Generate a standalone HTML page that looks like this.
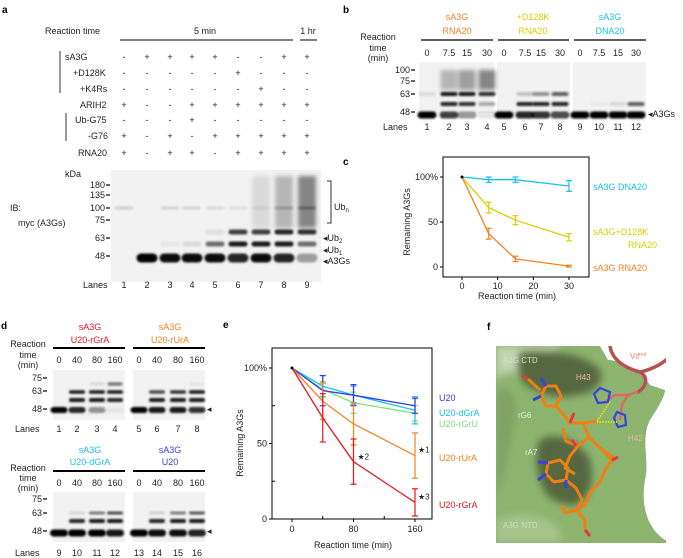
<!DOCTYPE html>
<html><head><meta charset="utf-8">
<style>
html,body{margin:0;padding:0;background:#fff;overflow:hidden;}
svg{display:block;font-family:"Liberation Sans",Arial,sans-serif;}
text{font-size:9px;fill:#222;}
.pl{font-size:10px;font-weight:bold;fill:#000;}
</style></head>
<body>
<svg id="fig" width="683" height="558" viewBox="0 0 683 558">
<defs>
<filter id="bl" x="-20%" y="-50%" width="140%" height="200%"><feGaussianBlur stdDeviation="1.1"/></filter>
<filter id="bl2" x="-20%" y="-50%" width="140%" height="200%"><feGaussianBlur stdDeviation="2.2"/></filter>
<filter id="bl3" x="-20%" y="-20%" width="140%" height="140%"><feGaussianBlur stdDeviation="4"/></filter>
</defs>

<!-- Panel a -->
<g>
<text class="pl" x="2" y="13">a</text>
<text x="45" y="34">Reaction time</text>
<text x="205" y="34" text-anchor="middle">5 min</text>
<text x="308" y="34" text-anchor="middle">1 hr</text>
<line x1="120" y1="40" x2="293" y2="40" stroke="#000" stroke-width="1"/>
<line x1="300" y1="40" x2="317" y2="40" stroke="#000" stroke-width="1"/>
<line x1="60" y1="51" x2="60" y2="93" stroke="#333" stroke-width="1"/>
<line x1="66" y1="113" x2="66" y2="141" stroke="#333" stroke-width="1"/>
<g id="a-table"></g>
<rect x="111" y="170" width="210" height="112" fill="#f2f2f2"/>
<g id="a-bands"></g>
<text x="65" y="177">kDa</text>
<g id="a-ticks"></g>
<text x="10" y="211">IB:</text>
<text x="18" y="226">myc (A3Gs)</text>
<path d="M327 181 H331 V223 H327" fill="none" stroke="#333" stroke-width="1"/>
<text x="334" y="210">Ub<tspan font-size="6" dy="2">n</tspan></text>
<text x="323" y="241">◂Ub<tspan font-size="6" dy="2">2</tspan></text>
<text x="323" y="253">◂Ub<tspan font-size="6" dy="2">1</tspan></text>
<text x="323" y="264">◂A3Gs</text>
<text x="83" y="288">Lanes</text>
</g>

<!-- Panel b -->
<g>
<text class="pl" x="343" y="13">b</text>
<text x="457" y="20" text-anchor="middle" style="fill:#f58220">sA3G</text>
<text x="457" y="34" text-anchor="middle" style="fill:#f58220">RNA20</text>
<text x="533" y="20" text-anchor="middle" style="fill:#d9d000">+D128K</text>
<text x="533" y="34" text-anchor="middle" style="fill:#d9d000">RNA20</text>
<text x="610" y="20" text-anchor="middle" style="fill:#19c2e6">sA3G</text>
<text x="610" y="34" text-anchor="middle" style="fill:#19c2e6">DNA20</text>
<line x1="421" y1="40" x2="493" y2="40" stroke="#000" stroke-width="1.2"/>
<line x1="498" y1="40" x2="569" y2="40" stroke="#000" stroke-width="1.2"/>
<line x1="574" y1="40" x2="646" y2="40" stroke="#000" stroke-width="1.2"/>
<text x="378" y="40" text-anchor="middle">Reaction</text>
<text x="378" y="51" text-anchor="middle">time</text>
<text x="378" y="61" text-anchor="middle">(min)</text>
<rect x="419" y="62" width="75" height="51" fill="#f2f2f2"/>
<rect x="497" y="62" width="73" height="51" fill="#f2f2f2"/>
<rect x="573" y="62" width="73" height="51" fill="#f2f2f2"/>
<g id="b-bands"></g>
<g id="b-ticks"></g>
<text x="648" y="117">◂A3Gs</text>
<text x="383" y="130">Lanes</text>
</g>

<!-- Panel c -->
<g>
<text class="pl" x="343" y="165">c</text>
<rect x="443" y="157" width="146" height="120" fill="none" stroke="#000" stroke-width="1"/>
<g id="c-chart"></g>
<text x="517" y="299" text-anchor="middle">Reaction time (min)</text>
<text transform="translate(410,222) rotate(-90)" text-anchor="middle">Remaining A3Gs</text>
<text x="593" y="190" style="fill:#19c2e6">sA3G DNA20</text>
<text x="593" y="235" style="fill:#d9d000">sA3G+D128K</text>
<text x="657" y="248" text-anchor="end" style="fill:#d9d000">RNA20</text>
<text x="593" y="271" style="fill:#f58220">sA3G RNA20</text>
</g>

<!-- Panel d -->
<g>
<text class="pl" x="1" y="329">d</text>
<text x="90" y="330" text-anchor="middle" style="fill:#e8141c">sA3G</text>
<text x="90" y="343" text-anchor="middle" style="fill:#e8141c">U20-rGrA</text>
<text x="170" y="330" text-anchor="middle" style="fill:#f58220">sA3G</text>
<text x="170" y="343" text-anchor="middle" style="fill:#f58220">U20-rUrA</text>
<line x1="53" y1="348" x2="125" y2="348" stroke="#000" stroke-width="2"/>
<line x1="133" y1="348" x2="205" y2="348" stroke="#000" stroke-width="2"/>
<text x="28" y="347" text-anchor="middle">Reaction</text>
<text x="28" y="358" text-anchor="middle">time</text>
<text x="28" y="368" text-anchor="middle">(min)</text>
<rect x="53" y="370" width="72" height="50" fill="#f2f2f2"/>
<rect x="133" y="370" width="72" height="50" fill="#f2f2f2"/>
<text x="90" y="453" text-anchor="middle" style="fill:#19c2e6">sA3G</text>
<text x="90" y="465" text-anchor="middle" style="fill:#19c2e6">U20-dGrA</text>
<text x="170" y="453" text-anchor="middle" style="fill:#3b3bea">sA3G</text>
<text x="170" y="465" text-anchor="middle" style="fill:#3b3bea">U20</text>
<line x1="53" y1="471" x2="125" y2="471" stroke="#000" stroke-width="2"/>
<line x1="133" y1="471" x2="205" y2="471" stroke="#000" stroke-width="2"/>
<text x="28" y="471" text-anchor="middle">Reaction</text>
<text x="28" y="481" text-anchor="middle">time</text>
<text x="28" y="491" text-anchor="middle">(min)</text>
<rect x="53" y="492" width="72" height="50" fill="#f2f2f2"/>
<rect x="133" y="492" width="72" height="50" fill="#f2f2f2"/>
<g id="d-bands"></g>
<g id="d-ticks"></g>
<text x="207" y="412">◂</text>
<text x="207" y="534">◂</text>
<text x="15" y="432">Lanes</text>
<text x="15" y="556">Lanes</text>
</g>

<!-- Panel e -->
<g>
<text class="pl" x="223" y="328">e</text>
<rect x="272" y="348" width="160" height="171" fill="none" stroke="#000" stroke-width="1"/>
<g id="e-chart"></g>
<text x="353" y="548" text-anchor="middle">Reaction time (min)</text>
<text transform="translate(243,443) rotate(-90)" text-anchor="middle">Remaining A3Gs</text>
<text x="439" y="401" style="fill:#3b3bea">U20</text>
<text x="439" y="416" style="fill:#19c2e6">U20-dGrA</text>
<text x="439" y="427" style="fill:#7de07d">U20-rGrU</text>
<text x="439" y="461" style="fill:#f58220">U20-rUrA</text>
<text x="439" y="508" style="fill:#e8141c">U20-rGrA</text>
</g>

<!-- Panel f -->
<g>
<text class="pl" x="487" y="330">f</text>
<svg x="496" y="346" width="170" height="197" viewBox="496 346 170 197">
<rect x="496" y="346" width="170" height="197" fill="#8db46f"/>
<path d="M496 346 H560 C550 365 530 375 505 372 L496 380 Z" fill="#c3d6b3" filter="url(#bl3)"/>
<path d="M520 352 C545 350 585 352 600 370 C605 385 590 395 575 395 C560 400 545 395 535 390 C520 385 515 370 520 352Z" fill="#56683f" filter="url(#bl3)"/>
<path d="M496 390 C510 385 520 395 515 420 C510 450 505 480 496 500Z" fill="#7fa463" filter="url(#bl3)"/>
<path d="M540 440 C555 430 580 440 590 460 C595 480 590 500 575 505 C560 505 545 500 540 480 C535 465 535 450 540 440Z" fill="#56683f" filter="url(#bl3)"/>
<path d="M496 520 C520 510 550 515 560 530 L560 543 H496 Z" fill="#a4c48b" filter="url(#bl3)"/>
<path d="M600 346 H666 V540 H665 C650 530 640 510 645 480 C650 460 640 440 650 420 C660 405 665 395 665 390 L650 385 C640 370 620 360 608 360 Z" fill="#ffffff"/>
<path d="M610 346 C612 360 625 368 640 372 C650 378 645 388 638 392 M640 372 C650 370 660 365 666 360" fill="none" stroke="#b8504f" stroke-width="3.5" stroke-linecap="round"/>
<path d="M638 392 L628 395 L622 405 L620 420 M628 395 L615 395 L605 402" fill="none" stroke="#d86a6a" stroke-width="2.5"/>
<path d="M600 388 L610 392 L608 402 L598 403 L594 394 Z" fill="none" stroke="#3346d8" stroke-width="2.2"/>
<path d="M617 412 L625 415 L626 425 L618 427 L614 418 Z" fill="none" stroke="#3346d8" stroke-width="2.2"/>
<path d="M597 421 L610 402 M597 422 L617 422" stroke="#e6e600" stroke-width="1.8" stroke-dasharray="1.5,1.2"/>
<path d="M528 379 L540 390 M546 386 L556 386 L561 396 L556 406 L546 406 L541 396 Z M556 406 L565 416 L570 423 L583 423 L589 437 L578 446 L566 441 L563 428 M583 423 L597 421 M589 437 L600 448 L612 460 L605 470 L600 482 L590 492 L585 505 L576 510 M578 446 L570 456 L565 468 L575 474" fill="none" stroke="#f07f12" stroke-width="3" stroke-linejoin="round"/>
<path d="M548 463 L560 460 L568 468 L566 480 L554 482 L546 474 Z M566 480 L576 488 L582 500 L576 510 L565 513 L562 505 M576 510 L585 520 L585 530 M600 448 L616 460" fill="none" stroke="#f07f12" stroke-width="3" stroke-linejoin="round"/>
<path d="M546 386 L541 378 M541 396 L533 400 M548 463 L538 462 M546 474 L538 480 M566 480 L566 488" stroke="#3346d8" stroke-width="3"/>
<path d="M528 379 L522 375 M570 423 L574 413 M612 460 L618 457 M585 530 L590 536 M576 446 L572 440" stroke="#e23a3a" stroke-width="3"/>
</svg>
<text x="503" y="363" style="fill:#cfe0bf;font-size:8px">A3G CTD</text>
<text x="576" y="380" style="fill:#f0b0b0;font-size:8px">H43</text>
<text x="630" y="359" style="fill:#d88;font-size:8px">Vif<tspan font-size="5" dy="-3">red</tspan></text>
<text x="518" y="418" style="fill:#e8f0de;font-size:8px">rG6</text>
<text x="628" y="441" style="fill:#f0b0b0;font-size:8px">H42</text>
<text x="525" y="455" style="fill:#e8f0de;font-size:8px">rA7</text>
<text x="503" y="528" style="fill:#cfe0bf;font-size:8px">A3G NTD</text>
</g>
</svg>

<script>
const NS = "http://www.w3.org/2000/svg";
function mk(tag, attrs, parent, txt) {
  const e = document.createElementNS(NS, tag);
  for (const k in attrs) e.setAttribute(k, attrs[k]);
  if (txt !== undefined) e.textContent = txt;
  parent.appendChild(e);
  return e;
}

/* ---------- Panel a table ---------- */
const aLaneX = [124,147,170,192,215,238,261,284,307];
const aRows = ["sA3G","+D128K","+K4Rs","ARIH2","Ub-G75","-G76","RNA20"];
const aRowX = [65,73,80,80,75,88,78];
const aRowY = [60,76,92,108,123,139,156];
const aSigns = [
 "-++++--++",
 "-----+---",
 "------+--",
 "+--++++++",
 "---+-----",
 "+-+-+++++",
 "+-++-++++"
];
const at = document.getElementById("a-table");
aRows.forEach((r,i)=>{
  const t = mk("text",{x:aRowX[i],y:aRowY[i]},at,r);
  
  
  for (let j=0;j<9;j++) mk("text",{x:aLaneX[j],y:aRowY[i],"text-anchor":"middle"},at,aSigns[i][j]);
});

function ticks(g, labels, ys, xr) {
  labels.forEach((l,i)=>{
    mk("text",{x:xr-4,y:ys[i]+3,"text-anchor":"end"},g,l);
    mk("line",{x1:xr-3,y1:ys[i],x2:xr+1,y2:ys[i],stroke:"#000","stroke-width":1.2},g);
  });
}
function bands(g, xs, y, ints, w, h) {
  xs.forEach((x,i)=>{
    if (ints[i] <= 0) return;
    const b = mk("rect",{x:x-w/2,y:y-h/2,width:w,height:h,rx:h/2,fill:"#000","fill-opacity":ints[i],filter:"url(#bl)"},g);
    
    
  });
}
function smear(g, xs, y1, y2, ints, w) {
  xs.forEach((x,i)=>{
    if (ints[i] <= 0) return;
    mk("rect",{x:x-w/2,y:y1,width:w,height:y2-y1,fill:"#000","fill-opacity":ints[i],filter:"url(#bl2)"},g);
  });
}
const ab = document.getElementById("a-bands");
smear(ab,aLaneX,176,228,[0,0,0,0,0,0,0.1,0.25,0.45],18);
bands(ab,aLaneX,208,[0.15,0,0.12,0.12,0.1,0.08,0.08,0.2,0.3],18,3);
bands(ab,aLaneX,258,[0,1,0.95,0.95,0.95,0.85,0.95,0.85,0.35],21,9);
bands(ab,aLaneX,244,[0,0,0.05,0.1,0.55,0.9,0.9,0.9,0.55],19,5);
bands(ab,aLaneX,232,[0,0,0,0,0.08,0.75,0.75,0.85,0.8],19,5);
ticks(document.getElementById("a-ticks"),["180","135","100","75","63","48"],[185,195,208,220,238,256],109);
aLaneX.forEach((x,i)=>mk("text",{x:x,y:288,"text-anchor":"middle"},document.getElementById("a-ticks"),String(i+1)));

/* ---------- Panel b ---------- */
const bLaneX = [427,449,467,487, 504,525,541,560, 580,599,618,636];
const bTimes = ["0","7.5","15","30"];
const bb = document.getElementById("b-bands");
smear(bb,bLaneX,70,90,[0,0.25,0.35,0.45,0,0,0,0,0,0,0,0],17);
bands(bb,bLaneX,115,[1,0.75,0.4,0.1,1,0.85,0.8,0.7,1,1,1,1],19,7);
bands(bb,bLaneX,104,[0,0.85,0.8,0.3,0,0.85,0.85,0.85,0,0.03,0.1,0.6],17,4);
bands(bb,bLaneX,94,[0.1,0.9,0.9,0.8,0,0.2,0.4,0.6,0,0,0,0],17,4);
const bt = document.getElementById("b-ticks");
ticks(bt,["100","75","63","48"],[70,81,94,112],414);
bLaneX.forEach((x,i)=>{
  mk("text",{x:x,y:56,"text-anchor":"middle"},bt,bTimes[i%4]);
  mk("text",{x:x,y:130,"text-anchor":"middle"},bt,String(i+1));
});

/* ---------- Panel d ---------- */
const dLaneX = [59,77,97,115, 139,157,178,197];
const dTimes = ["0","40","80","160"];
const db = document.getElementById("d-bands");
bands(db,dLaneX,410,[1,0.85,0.4,0.05,1,0.9,0.9,0.8],17,6);
bands(db,dLaneX,400,[0,0.9,0.9,0.85,0,0.9,0.9,0.9],16,4);
bands(db,dLaneX,392,[0,0.9,0.9,0.9,0,0.7,0.8,0.9],16,3.5);
bands(db,dLaneX,384,[0,0,0.1,0.5,0,0,0,0.05],15,3.5);
bands(db,dLaneX,533,[1,1,1,0.9,1,0.95,0.95,0.85],18,7);
bands(db,dLaneX,521,[0,0.85,0.9,0.9,0,0.85,0.9,0.9],16,4);
bands(db,dLaneX,513,[0,0.12,0.5,0.7,0,0.15,0.5,0.65],16,3);
const dt = document.getElementById("d-ticks");
ticks(dt,["75","63","48"],[378,391,409],46);
ticks(dt,["75","63","48"],[499,513,531],46);
dLaneX.forEach((x,i)=>{
  mk("text",{x:x,y:363,"text-anchor":"middle"},dt,dTimes[i%4]);
  mk("text",{x:x,y:432,"text-anchor":"middle"},dt,String(i+1));
  mk("text",{x:x,y:486,"text-anchor":"middle"},dt,dTimes[i%4]);
  mk("text",{x:x,y:556,"text-anchor":"middle"},dt,String(i+9));
});

/* ---------- Panel c chart ---------- */
const cTimes = [0, 7.5, 15, 30];
const cXTicks = [0, 10, 20, 30];
const cYTicks = [0, 50, 100];
const cYTickLabels = ["0", "50", "100%"];
const cDNA = [100, 97, 97, 90];
const cDNAErr = [0, 3, 3, 6];
const cD128K = [100, 66, 52, 33];
const cD128KErr = [0, 6, 5, 4];
const cRNA = [100, 37, 9, 1];
const cRNAErr = [0, 6, 3, 1];

function cx(v){ return 462 + v*(569-462)/30; }
function cy(v){ return 267 - v*(267-177)/100; }
const cg = document.getElementById("c-chart");
cXTicks.forEach(v=>{
  mk("line",{x1:cx(v),y1:277,x2:cx(v),y2:280,stroke:"#000"},cg);
  mk("text",{x:cx(v),y:289,"text-anchor":"middle"},cg,String(v));
});
cYTicks.forEach((v,i)=>{
  mk("line",{x1:440,y1:cy(v),x2:443,y2:cy(v),stroke:"#000"},cg);
  mk("text",{x:438,y:cy(v)+3,"text-anchor":"end"},cg,cYTickLabels[i]);
});
function series(g, xs, ys, errs, color, name, fx, fy, sw) {
  const pts = xs.map((x,i)=>fx(x)+","+fy(ys[i])).join(" ");
  const pl = mk("polyline",{points:pts,fill:"none",stroke:color,"stroke-width":sw||1.3},g);
  
  
  xs.forEach((x,i)=>{
    if (!errs[i]) return;
    const X = fx(x), y1 = fy(ys[i]+errs[i]), y2 = fy(Math.max(0,ys[i]-errs[i]));
    mk("line",{x1:X,y1:y1,x2:X,y2:y2,stroke:color,"stroke-width":1.2},g);
    mk("line",{x1:X-3,y1:y1,x2:X+3,y2:y1,stroke:color,"stroke-width":1.2},g);
    mk("line",{x1:X-3,y1:y2,x2:X+3,y2:y2,stroke:color,"stroke-width":1.2},g);
  });
}
series(cg,cTimes,cDNA,cDNAErr,"#19c2e6","dna20",cx,cy);
series(cg,cTimes,cD128K,cD128KErr,"#d9d000","d128k",cx,cy);
series(cg,cTimes,cRNA,cRNAErr,"#f58220","rna20",cx,cy);
mk("circle",{cx:cx(0),cy:cy(100),r:1.5,fill:"#000"},cg);

/* ---------- Panel e chart ---------- */
const eTimes = [0, 40, 80, 160];
const eXTicks = [0, 80, 160];
const eXMinor = [40, 120];
const eYTicks = [0, 50, 100];
const eYMinor = [25, 75];
const eYTickLabels = ["0", "50", "100%"];
const eU20 = [100, 85, 82, 75];
const eU20Err = [0, 10, 7, 5];
const eDGrA = [100, 88, 82, 72];
const eDGrAErr = [0, 7, 6, 9];
const eRGrU = [100, 86, 77, 70];
const eRGrUErr = [0, 5, 7, 5];
const eRUrA = [100, 78, 63, 42];
const eRUrAErr = [0, 12, 14, 15];
const eRGrA = [100, 67, 38, 11];
const eRGrAErr = [0, 16, 15, 9];
const eStars = ["★1", "★2", "★3"];

function ex(v){ return 292 + v*(415-292)/160; }
function ey(v){ return 519 - v*(519-368)/100; }
const eg = document.getElementById("e-chart");
eXTicks.forEach(v=>{
  mk("line",{x1:ex(v),y1:519,x2:ex(v),y2:522,stroke:"#000"},eg);
  mk("text",{x:ex(v),y:532,"text-anchor":"middle"},eg,String(v));
});
eXMinor.forEach(v=>mk("line",{x1:ex(v),y1:516,x2:ex(v),y2:519,stroke:"#000"},eg));
eYTicks.forEach((v,i)=>{
  mk("line",{x1:269,y1:ey(v),x2:272,y2:ey(v),stroke:"#000"},eg);
  mk("text",{x:267,y:ey(v)+3,"text-anchor":"end"},eg,eYTickLabels[i]);
});
eYMinor.forEach(v=>mk("line",{x1:272,y1:ey(v),x2:275,y2:ey(v),stroke:"#000"},eg));
series(eg,eTimes,eRGrU,eRGrUErr,"#7de07d","rgru",ex,ey);
series(eg,eTimes,eDGrA,eDGrAErr,"#19c2e6","dgra",ex,ey);
series(eg,eTimes,eU20,eU20Err,"#3b3bea","u20",ex,ey);
series(eg,eTimes,eRUrA,eRUrAErr,"#f58220","rura",ex,ey);
series(eg,eTimes,eRGrA,eRGrAErr,"#e8141c","rgra",ex,ey);
mk("circle",{cx:ex(0),cy:ey(100),r:1.5,fill:"#000"},eg);
mk("text",{x:ex(160)+3,y:ey(eRUrA[3])-3,style:"font-size:8px"},eg,eStars[0]);
mk("text",{x:ex(80)+4,y:ey(eRGrA[2])-2,style:"font-size:8px"},eg,eStars[1]);
mk("text",{x:ex(160)+3,y:ey(eRGrA[3])-3,style:"font-size:8px"},eg,eStars[2]);
</script>
</body></html>
